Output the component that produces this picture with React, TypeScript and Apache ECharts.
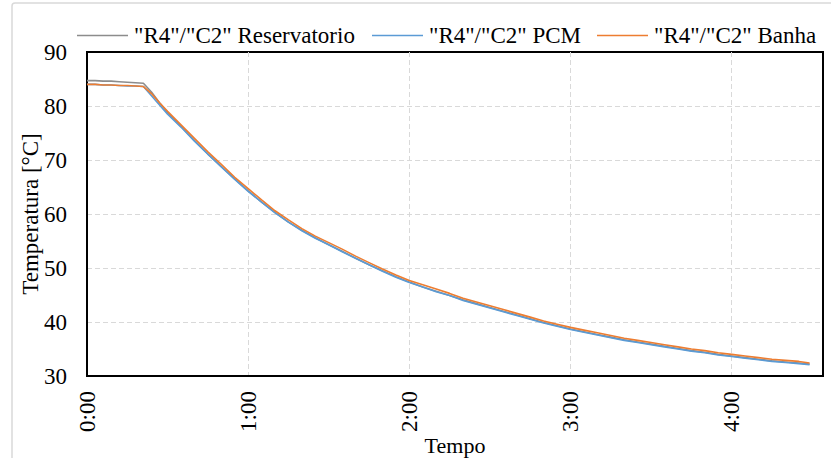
import React, { useEffect, useRef } from "react";
import * as echarts from "echarts";

const seriesNames = ['"R4"/"C2" Reservatorio', '"R4"/"C2" PCM', '"R4"/"C2" Banha'];
const seriesColors = ["#8c8c8c", "#5B9BD5", "#ED7D31"];

// time in minutes
const times = [0, 3, 6, 9, 12, 15, 18, 21, 24, 27, 30, 35, 40, 45, 50, 55, 60, 65, 70, 75, 80, 85, 90, 95, 100, 105, 110, 115, 120, 125, 130, 135, 140, 145, 150, 155, 160, 165, 170, 175, 180, 185, 190, 195, 200, 205, 210, 215, 220, 225, 230, 235, 240, 245, 250, 255, 260, 265, 269];

const reservatorio = [84.7, 84.7, 84.6, 84.6, 84.5, 84.4, 84.3, 84.2, 82.6, 80.6, 78.8, 76.2, 73.6, 71.1, 68.8, 66.5, 64.3, 62.2, 60.3, 58.5, 57.0, 55.6, 54.3, 53.1, 51.8, 50.6, 49.5, 48.4, 47.4, 46.5, 45.7, 44.9, 44.1, 43.4, 42.7, 42.0, 41.3, 40.6, 39.9, 39.3, 38.7, 38.2, 37.7, 37.2, 36.7, 36.3, 35.9, 35.5, 35.1, 34.7, 34.4, 34.0, 33.7, 33.4, 33.1, 32.8, 32.6, 32.4, 32.2];

const pcm = [84.0, 84.0, 83.9, 83.9, 83.8, 83.7, 83.7, 83.6, 81.9, 80.2, 78.5, 76.1, 73.5, 71.1, 68.7, 66.4, 64.2, 62.2, 60.2, 58.5, 56.9, 55.5, 54.3, 53.0, 51.8, 50.6, 49.4, 48.3, 47.3, 46.5, 45.6, 44.9, 44.0, 43.3, 42.6, 41.9, 41.2, 40.5, 39.8, 39.2, 38.6, 38.1, 37.6, 37.1, 36.6, 36.2, 35.8, 35.4, 35.0, 34.6, 34.3, 33.9, 33.6, 33.3, 33.0, 32.7, 32.5, 32.3, 32.1];

const banha = [84.0, 84.0, 83.9, 83.9, 83.8, 83.8, 83.7, 83.6, 82.3, 80.6, 79.0, 76.5, 74.0, 71.5, 69.2, 66.8, 64.7, 62.6, 60.6, 58.9, 57.3, 55.9, 54.7, 53.5, 52.2, 51.0, 49.8, 48.7, 47.7, 46.9, 46.1, 45.3, 44.4, 43.7, 43.0, 42.3, 41.6, 40.9, 40.2, 39.6, 39.0, 38.5, 38.0, 37.5, 37.0, 36.6, 36.2, 35.8, 35.4, 35.0, 34.7, 34.3, 34.0, 33.7, 33.4, 33.1, 32.9, 32.7, 32.4];

const yTitle = "Temperatura [°C]";
const xTitle = "Tempo";

const FONT = "'Liberation Serif', 'Times New Roman', serif";

export default function App() {
  const ref = useRef<HTMLDivElement>(null);
  useEffect(() => {
    if (!ref.current) return;
    const chart = echarts.init(ref.current, undefined, { renderer: "svg" });
    const values = [reservatorio, pcm, banha];
    const legendLefts = [72, 367, 592];
    const split = {
      show: true,
      showMinLine: false,
      showMaxLine: false,
      lineStyle: { color: "#d9d9d9", type: [5, 3], width: 1 },
    };
    chart.setOption({
      animation: false,
      backgroundColor: "#fff",
      textStyle: { fontFamily: FONT },
      graphic: [
        {
          type: "rect",
          shape: { x: 12, y: 3, width: 900, height: 600, r: 3 },
          style: { fill: "none", stroke: "#d9d9d9", lineWidth: 1.5 },
          silent: true,
        },
      ],
      legend: seriesNames.map((n, i) => ({
        data: [n],
        left: legendLefts[i],
        top: 19,
        icon: "rect",
        itemWidth: 51,
        itemHeight: 1.6,
        itemGap: 0,
        textStyle: { fontFamily: FONT, fontSize: 23, color: "#000", padding: [0, 0, 0, 1] },
      })),
      grid: {
        left: 87,
        right: 8,
        top: 52,
        bottom: 82,
        show: true,
        borderColor: "#000",
        borderWidth: 2,
        containLabel: false,
        outerBoundsMode: "none",
      },
      xAxis: {
        type: "value",
        min: 0,
        max: 274,
        interval: 60,
        name: xTitle,
        nameLocation: "middle",
        nameGap: 58,
        nameMoveOverlap: false,
        nameTextStyle: { fontFamily: FONT, fontSize: 22, color: "#000" },
        axisLine: { show: true, lineStyle: { color: "#000", width: 2 } },
        axisTick: { show: false },
        axisLabel: {
          rotate: 90,
          margin: 15,
          fontFamily: FONT,
          fontSize: 23,
          color: "#000",
          showMaxLabel: false,
          formatter: (v: number) => `${Math.floor(v / 60)}:${String(Math.round(v % 60)).padStart(2, "0")}`,
        },
        splitLine: split,
      },
      yAxis: {
        type: "value",
        min: 30,
        max: 90,
        interval: 10,
        name: yTitle,
        nameLocation: "middle",
        nameGap: 45,
        nameMoveOverlap: false,
        nameTextStyle: { fontFamily: FONT, fontSize: 23, color: "#000" },
        axisLine: { show: true, lineStyle: { color: "#000", width: 2 } },
        axisTick: { show: false },
        axisLabel: { margin: 20, fontFamily: FONT, fontSize: 23, color: "#000" },
        splitLine: split,
      },
      series: seriesNames.map((n, i) => ({
        name: n,
        type: "line",
        symbol: "none",
        showSymbol: false,
        color: seriesColors[i],
        lineStyle: { color: seriesColors[i], width: 1.6 },
        data: times.map((t, j) => [t, values[i][j]]),
        z: 2 + i,
      })),
    });
    return () => chart.dispose();
  }, []);
  return <div ref={ref} style={{ position: "fixed", left: 0, top: 0, width: 831, height: 458 }} />;
}
